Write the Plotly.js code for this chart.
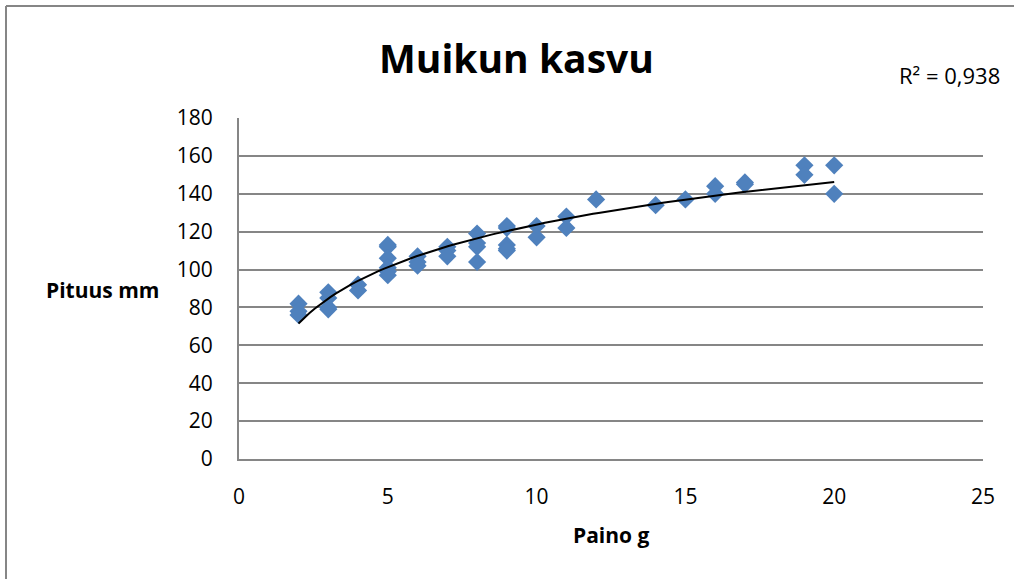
<!DOCTYPE html>
<html>
<head>
<meta charset="utf-8">
<script src="https://cdn.plot.ly/plotly-3.0.1.min.js"></script>
<style>
  html, body { margin: 0; padding: 0; background: #fff; }
  #chart { width: 1014px; height: 579px; }
</style>
</head>
<body>
<div id="chart"></div>
<script>
// Data
const painoG = [2,2,2,3,3,3,3,4,4,5,5,5,5,5,5,6,6,6,7,7,7,8,8,8,8,9,9,9,9,9,10,10,11,11,12,14,15,16,16,17,17,19,19,20,20];
const pituusMm = [82,78,76,88,85,80,79,92,89,113,112,106,101,99,97,107,104,102,112,110,107,119,114,112,104,123,122,113,111,110,123,117,128,122,137,134,137,144,140,146,145,155,150,155,140];
const yTicks = [0,20,40,60,80,100,120,140,160,180];
const xTicks = [0,5,10,15,20,25];
const chartTitle = 'Muikun kasvu';
const xTitle = 'Paino g';
const yTitle = 'Pituus mm';
const r2Label = 'R² = 0,938';

// Logarithmic trendline (least squares on ln(x))
const lx = painoG.map(Math.log);
const n = lx.length;
const mx = lx.reduce((a,b)=>a+b,0)/n;
const my = pituusMm.reduce((a,b)=>a+b,0)/n;
let sxy = 0, sxx = 0;
for (let i = 0; i < n; i++) { sxy += (lx[i]-mx)*(pituusMm[i]-my); sxx += (lx[i]-mx)*(lx[i]-mx); }
const slope = sxy/sxx, icept = my - slope*mx;
const xmin = Math.min(...painoG), xmax = Math.max(...painoG);
const tx = [], ty = [];
for (let k = 0; k <= 100; k++) { const x = xmin + (xmax-xmin)*k/100; tx.push(x); ty.push(slope*Math.log(x)+icept); }

const font = "Open Sans, Lato, sans-serif";
const data = [
  { x: painoG, y: pituusMm, type: 'scatter', mode: 'markers',
    marker: { symbol: 'diamond', size: 14, color: '#4f81bd', line: { width: 0 } }, hoverinfo: 'x+y' },
  { x: tx, y: ty, type: 'scatter', mode: 'lines', line: { color: '#000', width: 2 }, hoverinfo: 'skip' }
];
const px = p => (p-239)/744;
const py = p => (459-p)/341;
const layout = {
  width: 1014, height: 579,
  margin: { l: 239, r: 31, t: 118, b: 120 },
  paper_bgcolor: '#fff', plot_bgcolor: '#fff',
  showlegend: false,
  font: { family: font, color: '#000', size: 20 },
  xaxis: { range: [0,25], tickvals: xTicks, ticktext: xTicks.map(String), showgrid: false, zeroline: false,
           showline: true, linecolor: '#868686', linewidth: 2, ticks: '', ticklabelstandoff: 18,
           tickfont: { size: 21, family: font } },
  yaxis: { range: [0,180], tickvals: yTicks, ticktext: yTicks.map(String), showgrid: true, gridcolor: '#868686', gridwidth: 2,
           zeroline: false, showline: true, linecolor: '#868686', linewidth: 2, ticks: '', ticklabelstandoff: 20,
           tickfont: { size: 21, family: font } },
  annotations: [
    { text: '<b>' + chartTitle + '</b>', xref: 'paper', yref: 'paper', x: px(516), y: py(58),
      xanchor: 'center', yanchor: 'middle', showarrow: false, font: { size: 39, family: font } },
    { text: r2Label, xref: 'paper', yref: 'paper', x: px(1002), y: py(75),
      xanchor: 'right', yanchor: 'middle', showarrow: false, font: { size: 22, family: font } },
    { text: '<b>' + yTitle + '</b>', xref: 'paper', yref: 'paper', x: px(44), y: py(290),
      xanchor: 'left', yanchor: 'middle', showarrow: false, font: { size: 21, family: font } },
    { text: '<b>' + xTitle + '</b>', xref: 'paper', yref: 'paper', x: px(611), y: py(535),
      xanchor: 'center', yanchor: 'middle', showarrow: false, font: { size: 21, family: font } }
  ],
  shapes: [
    { type: 'line', xref: 'paper', yref: 'paper', x0: px(6), x1: px(6), y0: py(579), y1: py(6),
      line: { color: '#868686', width: 2 }, layer: 'below' },
    { type: 'line', xref: 'paper', yref: 'paper', x0: px(6), x1: px(1014), y0: py(6), y1: py(6),
      line: { color: '#868686', width: 2 }, layer: 'below' }
  ]
};
Plotly.newPlot('chart', data, layout, { displayModeBar: false, staticPlot: true });
</script>
</body>
</html>
